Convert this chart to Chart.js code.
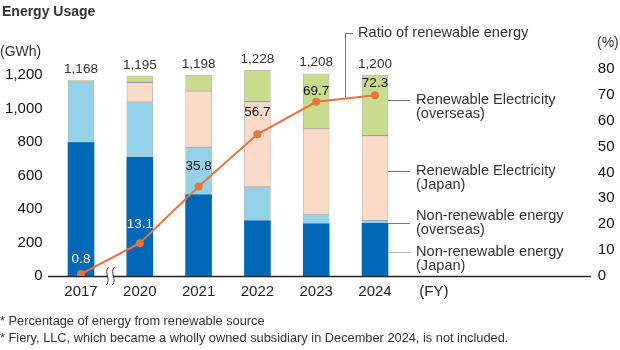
<!DOCTYPE html>
<html>
<head>
<meta charset="utf-8">
<title>Energy Usage</title>
<script src="https://cdn.jsdelivr.net/npm/chart.js@4/dist/chart.umd.min.js"></script>
<style>
  html, body { margin: 0; padding: 0; background: #fff; }
  #wrap { position: relative; width: 620px; height: 350px; }
</style>
</head>
<body>
<div id="wrap"><canvas id="energy-chart"></canvas></div>
<script>
// data (GWh, %)
const years = ['2017', '2020', '2021', '2022', '2023', '2024'];
const axisLabels = [...years, '(FY)', '', ''];
const nonRenewJapan = [796, 709, 484, 330, 312, 314];
const nonRenewOverseas = [363, 330, 285, 202, 54, 18];
const renewJapan = [0, 116, 335, 509, 516, 506];
const renewOverseas = [9, 40, 94, 187, 326, 362];
const totals = [1168, 1195, 1198, 1228, 1208, 1200];
const renewRatio = [0.8, 13.1, 35.8, 56.7, 69.7, 72.3];
const gwhTicks = [0, 200, 400, 600, 800, 1000, 1200];
const pctTicks = [0, 10, 20, 30, 40, 50, 60, 70, 80];

const FONT = '"Liberation Sans", Arial, sans-serif';
Chart.defaults.font.family = FONT;

// --- colours ---
const C_DARK = '#0068b7';
const C_LIGHT = '#93d2e8';
const C_PEACH = '#fbdac9';
const C_GREEN = '#c9dc8e';
const C_LINE = '#e8743b';
const C_EDGE = 'rgba(0,0,0,0.28)';

function txt(ctx, s, x, y, size, color, align, weight) {
    ctx.save();
    ctx.font = (weight || 'normal') + ' ' + size + 'px ' + FONT;
    ctx.fillStyle = color;
    ctx.textAlign = align || 'left';
    ctx.textBaseline = 'middle';
    ctx.fillText(s, x, y);
    ctx.restore();
}

function hline(ctx, x1, x2, y, color) {
    ctx.save();
    ctx.strokeStyle = color;
    ctx.lineWidth = 1;
    ctx.beginPath();
    ctx.moveTo(x1, y + 0.5);
    ctx.lineTo(x2, y + 0.5);
    ctx.stroke();
    ctx.restore();
}

// baseline + axis break
const baselinePlugin = {
    id: 'baseline',
    beforeDatasetsDraw(chart) {
        const ctx = chart.ctx;
        const y = chart.scales.y.getPixelForValue(0);
        ctx.save();
        ctx.strokeStyle = '#222';
        ctx.lineWidth = 1.5;
        ctx.beginPath();
        ctx.moveTo(48, y + 0.5);
        ctx.lineTo(591, y + 0.5);
        ctx.stroke();

        // break mark between 2017 and 2020
        const xb = (chart.scales.x.getPixelForValue(0) + chart.scales.x.getPixelForValue(1)) / 2;
        ctx.fillStyle = '#fff';
        ctx.fillRect(xb - 3, y - 3, 6, 7);
        ctx.strokeStyle = '#333';
        ctx.lineWidth = 1;
        [xb - 3, xb + 3].forEach(x0 => {
            ctx.beginPath();
            ctx.moveTo(x0 + 1, y - 9);
            ctx.bezierCurveTo(x0 - 4, y - 3, x0 + 4, y + 3, x0 - 1, y + 9);
            ctx.stroke();
        });
        ctx.restore();
    }
};

// totals, ratio labels, side legend, titles and notes
const annotatePlugin = {
    id: 'annotate',
    afterDatasetsDraw(chart) {
        const ctx = chart.ctx;
        const xs = chart.scales.x, ys = chart.scales.y, y2 = chart.scales.y2;

        totals.forEach((t, i) => {
            txt(ctx, t.toLocaleString('en-US'), xs.getPixelForValue(i), ys.getPixelForValue(t) - 11, 13.5, '#333', 'center');
        });

        const lift = [15, 19, 20, 22, 10, 12];
        renewRatio.forEach((r, i) => {
            const col = i < 2 ? '#fff' : '#111';
            txt(ctx, r.toFixed(1), xs.getPixelForValue(i), y2.getPixelForValue(r) - lift[i], 13.5, col, 'center');
        });

        // ratio callout
        ctx.save();
        ctx.strokeStyle = '#777';
        ctx.lineWidth = 1;
        ctx.beginPath();
        ctx.moveTo(353, 33.5);
        ctx.lineTo(345.5, 33.5);
        ctx.lineTo(345.5, 97);
        ctx.stroke();
        ctx.restore();
        txt(ctx, 'Ratio of renewable energy', 358, 33, 14.6, '#333');

        // series callouts
        const lx1 = 388, lx2 = 410, tx = 416, fs = 14.6;
        hline(ctx, lx1, lx2, 100, '#777');
        txt(ctx, 'Renewable Electricity', tx, 100, fs, '#333');
        txt(ctx, '(overseas)', tx, 113.5, fs, '#333');

        hline(ctx, lx1, lx2, 171, '#777');
        txt(ctx, 'Renewable Electricity', tx, 171, fs, '#333');
        txt(ctx, '(Japan)', tx, 184.5, fs, '#333');

        hline(ctx, lx1, lx2, 223, '#777');
        txt(ctx, 'Non-renewable energy', tx, 216, fs, '#333');
        txt(ctx, '(overseas)', tx, 229.5, fs, '#333');

        hline(ctx, lx1, lx2, 252, '#bbb');
        txt(ctx, 'Non-renewable energy', tx, 252, fs, '#333');
        txt(ctx, '(Japan)', tx, 265.5, fs, '#333');

        // titles
        txt(ctx, 'Energy Usage', 2, 12, 14, '#333', 'left', 'bold');
        txt(ctx, '(GWh)', 0, 52, 14, '#333');
        txt(ctx, '(%)', 597, 43, 14, '#333');

        // footnotes
        txt(ctx, '* Percentage of energy from renewable source', 0, 321, 12.8, '#333');
        txt(ctx, '* Fiery, LLC, which became a wholly owned subsidiary in December 2024, is not included.', 0, 338, 12.8, '#333');
    }
};

function barSet(label, data, color, edge) {
    return {
        type: 'bar',
        label: label,
        data: data,
        backgroundColor: color,
        borderColor: edge,
        borderWidth: edge ? 0.8 : 0,
        borderSkipped: false,
        barThickness: 26,
        yAxisID: 'y',
        order: 1
    };
}

new Chart(document.getElementById('energy-chart').getContext('2d'), {
    data: {
        labels: axisLabels,
        datasets: [
            {
                type: 'line',
                label: 'Ratio of renewable energy',
                data: renewRatio,
                borderColor: C_LINE,
                backgroundColor: C_LINE,
                borderWidth: 2,
                pointRadius: 4,
                pointBackgroundColor: C_LINE,
                pointBorderWidth: 0,
                tension: 0,
                yAxisID: 'y2',
                order: 0
            },
            barSet('Non-renewable energy (Japan)', nonRenewJapan, C_DARK, null),
            barSet('Non-renewable energy (overseas)', nonRenewOverseas, C_LIGHT, C_EDGE),
            barSet('Renewable Electricity (Japan)', renewJapan, C_PEACH, C_EDGE),
            barSet('Renewable Electricity (overseas)', renewOverseas, C_GREEN, C_EDGE)
        ]
    },
    options: {
        responsive: true,
        maintainAspectRatio: false,
        animation: false,
        layout: { padding: { top: 65, left: 0, right: 0, bottom: 0 } },
        plugins: {
            legend: { display: false },
            tooltip: { enabled: false }
        },
        scales: {
            x: {
                stacked: true,
                offset: true,
                grid: { display: false, drawTicks: false },
                border: { display: false },
                ticks: {
                    font: { size: 15 },
                    color: '#222',
                    padding: 7,
                    maxRotation: 0,
                    autoSkip: false
                },
                afterFit: s => { s.height = 74; }
            },
            y: {
                stacked: true,
                position: 'left',
                min: 0,
                max: 1260,
                grid: { display: false, drawTicks: false },
                border: { display: false },
                afterBuildTicks: s => { s.ticks = gwhTicks.map(v => ({ value: v })); },
                ticks: {
                    font: { size: 15 },
                    color: '#111',
                    padding: 9,
                    callback: v => v.toLocaleString('en-US')
                },
                afterFit: s => { s.width = 51.6; }
            },
            y1: {
                position: 'right',
                min: 0,
                max: 81.5,
                grid: { display: false, drawTicks: false },
                border: { display: false },
                afterBuildTicks: s => { s.ticks = pctTicks.map(v => ({ value: v })); },
                ticks: {
                    font: { size: 15 },
                    color: '#111',
                    padding: 17
                },
                afterFit: s => { s.width = 39.2; }
            },
            y2: {
                display: false,
                min: 0,
                max: 84.4
            }
        }
    },
    plugins: [baselinePlugin, annotatePlugin]
});
</script>
</body>
</html>
